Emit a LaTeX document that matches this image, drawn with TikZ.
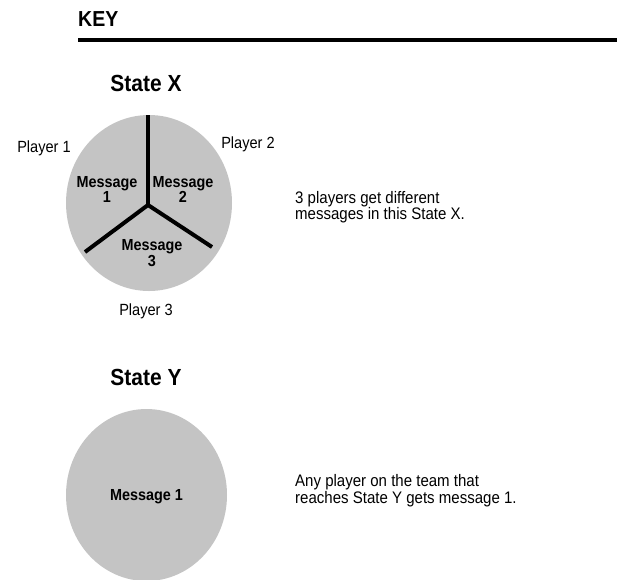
\documentclass[tikz,border=0pt]{standalone}
\usepackage{fontspec}
\setmainfont{Liberation Sans}[FakeStretch=0.9]
\definecolor{piefill}{RGB}{196,196,196}
\begin{document}
\begin{tikzpicture}[x=1pt,y=-1pt,
  title/.style={font=\fontsize{23.3}{26}\selectfont\bfseries, inner sep=0pt},
  label/.style={font=\fontsize{16.2}{18}\selectfont, inner sep=0pt},
  msg/.style={font=\fontsize{16}{13}\selectfont\bfseries, inner sep=0pt, align=center},
  note/.style={font=\fontsize{16.7}{16.5}\selectfont, inner sep=0pt, align=left, anchor=west},
  divider/.style={line width=4pt},
  disc/.style={fill=piefill, draw=none}]
\useasboundingbox (0,0) rectangle (617,579);

% heading and rule
\node[title, anchor=west, font=\fontsize{21.7}{24}\selectfont\bfseries] (key) at (78,19) {KEY};
\draw[line width=4pt] (78,39.5) -- (617,39.5);

% State X: one disc split into three sectors
\node[title] (sx) at (146,83) {State X};
\fill[disc] (149,203) ellipse [x radius=83, y radius=88];
\coordinate (hub) at (148,205);
\coordinate (top) at (148,115);
\coordinate (lowl) at (85,252);
\coordinate (lowr) at (212,247);
\draw[divider] (hub) -- (top);
\draw[divider] (hub) -- (lowl);
\draw[divider] (hub) -- (lowr);
\node[msg] (m1) at (107,189.5) {Message\\1};
\node[msg] (m2) at (183,189.5) {Message\\2};
\node[msg] (m3) at (152,253) {Message\\3};
\node[label] (p1) at (44,148) {Player 1};
\node[label] (p2) at (248,144) {Player 2};
\node[label] (p3) at (146,311) {Player 3};
\node[note] (nx) at (295,207) {3 players get different\\messages in this State X.};

% State Y: a single disc
\node[title] (sy) at (146,377) {State Y};
\fill[disc] (146.5,495) ellipse [x radius=80.5, y radius=86];
\node[msg] (my) at (146.5,497) {Message 1};
\node[note] (ny) at (295,490.5) {Any player on the team that\\reaches State Y gets message 1.};
\end{tikzpicture}
\end{document}
